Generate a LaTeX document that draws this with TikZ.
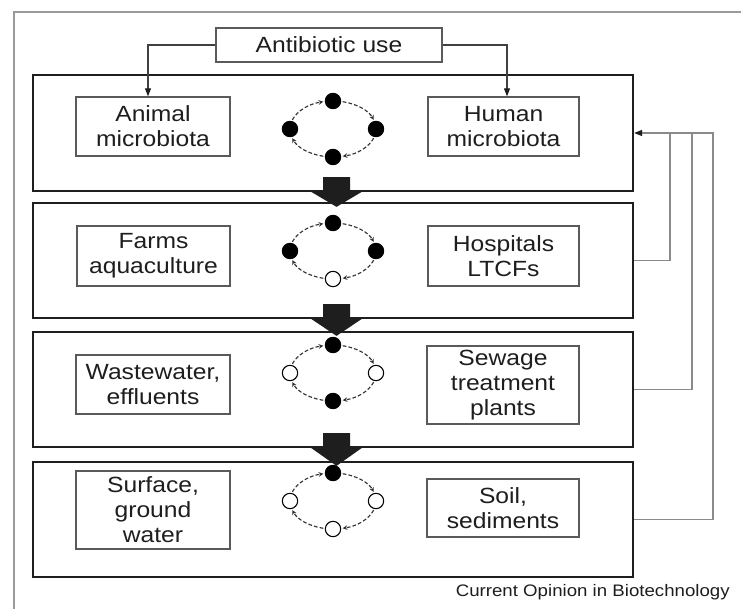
\documentclass[tikz,border=0pt]{standalone}
\usepackage{fontspec}
\setmainfont{Liberation Sans}[FakeStretch=1.12]
\usetikzlibrary{arrows.meta,calc}
\definecolor{ink}{HTML}{1E1E1E}
\definecolor{boxc}{HTML}{5A5A5A}
\definecolor{fbc}{HTML}{8A8A8A}
\definecolor{framec}{HTML}{9A9A9A}
\newcommand\mycycle[6]{%
  \coordinate (#1c) at (333,#2);
  \foreach \a in {0,180}{\draw[cyc] ($(#1c)+(\a+19:43 and 28)$) arc[start angle=\a+19, end angle=\a+77, x radius=43, y radius=28];}
  \foreach \a in {90,270}{\draw[cyc] ($(#1c)+(\a+13:43 and 28)$) arc[start angle=\a+13, end angle=\a+71, x radius=43, y radius=28];}
  \node[dotn=#3] (#1t) at ($(#1c)+(0,-28)$) {};
  \node[dotn=#4] (#1r) at ($(#1c)+(43,0)$) {};
  \node[dotn=#5] (#1b) at ($(#1c)+(0,28)$) {};
  \node[dotn=#6] (#1l) at ($(#1c)+(-43,0)$) {};
}
\newcommand\myblock[2]{%
  \fill[ink] ($(#1.south)+(-10,-15)$) -- ($(#1.south)+(17,-15)$) -- ($(#1.south)+(17,-1)$)
    -- ($(#1.south)+(30,-1)$) -- ($(#2.north)+(3.5,5)$) -- ($(#1.south)+(-23,-1)$)
    -- ($(#1.south)+(-10,-1)$) -- cycle;
}
\begin{document}
\begin{tikzpicture}[x=0.75pt,y=-0.75pt,
  txt/.style={font=\fontsize{16.5pt}{18.75pt}\selectfont, text=ink, align=center},
  box/.style={txt, draw=boxc, line width=1pt, inner sep=0pt, fill=white},
  panel/.style={draw=ink, line width=1.7pt, minimum width=450pt, inner sep=0pt},
  feed/.style={draw=fbc, line width=0.9pt},
  link/.style={draw=ink!85, line width=0.8pt, -{Triangle[length=6pt,width=4.5pt,color=ink]}},
  cyc/.style={draw=ink!90, line width=0.85pt, dash pattern=on 2.8pt off 1.6pt, -{Stealth[length=3.5pt,width=3.5pt]}},
  dotn/.style={circle, draw=black, line width=0.8pt, fill=#1, minimum size=11.5pt, inner sep=0pt},
]
\useasboundingbox (0,0) rectangle (741,609);
\fill[white] (0,0) rectangle (741,609);
% outer frame (cropped)
\draw[framec, line width=1.1pt] (14,609) -- (14,12) -- (741,12);

% panels
\node[panel, minimum height=87pt]    (p1) at (333,133) {};
\node[panel, minimum height=86.25pt] (p2) at (333,260.5) {};
\node[panel, minimum height=86.25pt] (p3) at (333,389.5) {};
\node[panel, minimum height=86.25pt] (p4) at (333,519.5) {};

% top box
\node[box, minimum width=169.5pt, minimum height=25.5pt] (ab) at (329,45) {Antibiotic use};

% inner boxes
\node[box, minimum width=115.5pt, minimum height=44.25pt] (animal) at (153,126.5) {Animal\\microbiota};
\node[box, minimum width=113.25pt, minimum height=44.25pt] (human) at (503.5,126.5) {Human\\microbiota};
\node[box, minimum width=114.75pt, minimum height=45pt] (farms) at (153.5,256) {Farms\\aquaculture};
\node[box, minimum width=113.25pt, minimum height=45pt] (hosp) at (503.5,256) {Hospitals\\LTCFs};
\node[box, minimum width=115.5pt, minimum height=44.25pt] (waste) at (153,384.5) {Wastewater,\\effluents};
\node[box, minimum width=114pt, minimum height=58.5pt] (sewage) at (503,385) {Sewage\\treatment\\plants};
\node[box, minimum width=115.5pt, minimum height=58.5pt] (surface) at (153,510) {Surface,\\ground\\water};
\node[box, minimum width=114pt, minimum height=43.5pt] (soil) at (503,508) {Soil,\\sediments};

% antibiotic use connectors
\draw[link] (ab.west) -| ($(animal.north)+(-5,0)$);
\draw[link] (ab.east) -| ($(human.north)+(3.5,0)$);

% cycles
\mycycle{c1}{129}{black}{black}{black}{black}
\mycycle{c2}{251}{black}{black}{white}{black}
\mycycle{c3}{373}{black}{white}{black}{white}
\mycycle{c4}{501}{black}{white}{white}{white}

% block arrows between panels
\myblock{p1}{p2}
\myblock{p2}{p3}
\myblock{p3}{p4}

% feedback lines
\coordinate (j2) at (670,133);
\coordinate (j3) at (692,133);
\coordinate (j4) at (713,133);
\draw[feed] (p2.east) -| (j2);
\draw[feed] (p3.east) -| (j3);
\draw[feed, -{Triangle[length=6pt,width=4.5pt,color=ink]}] (p4.east) -| (j4) -- (p1.east);

% caption
\node[anchor=east, text=ink, font=\fontsize{12.5pt}{15pt}\selectfont, inner sep=0pt] (cap) at (730,592) {Current Opinion in Biotechnology};
\end{tikzpicture}
\end{document}
